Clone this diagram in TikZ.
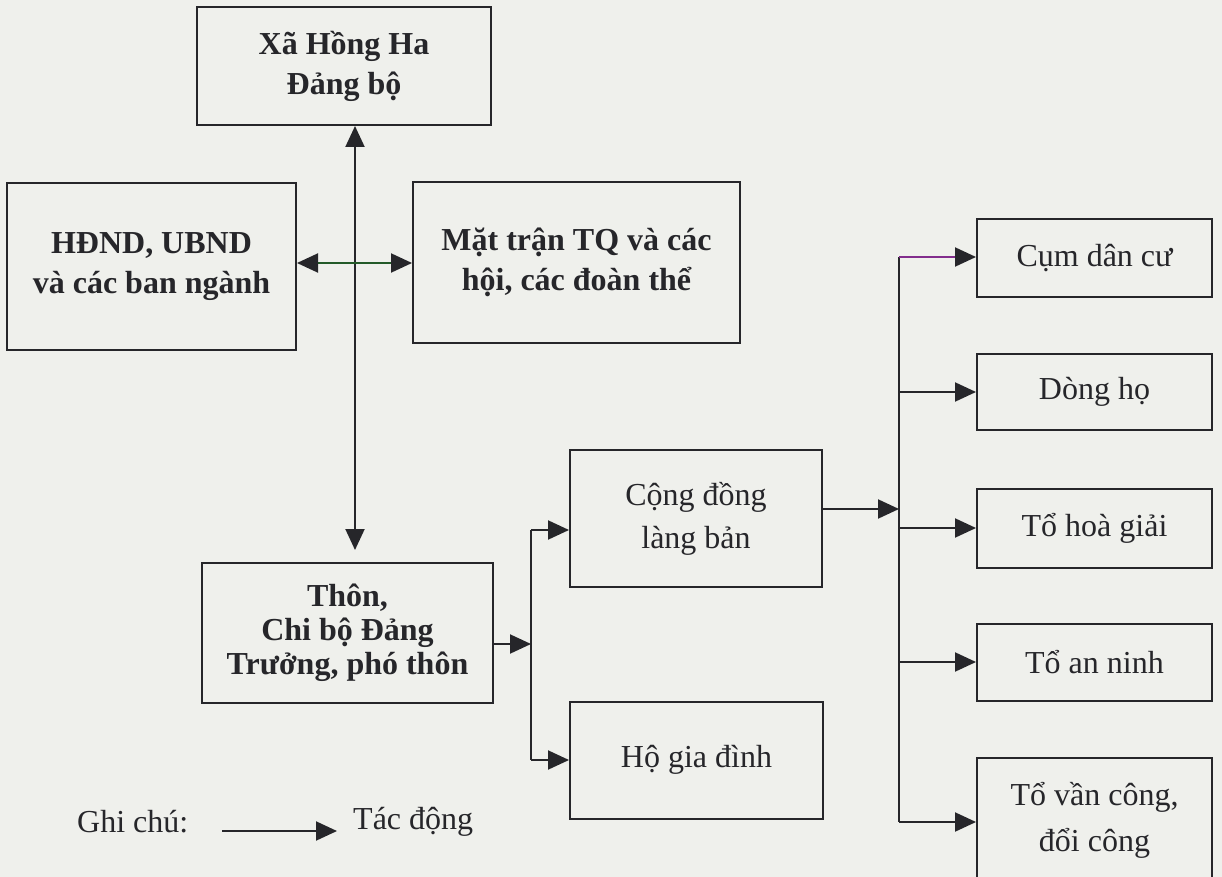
\documentclass[tikz,border=0pt]{standalone}
\usepackage{fontspec}
\setmainfont{Liberation Serif}
\usetikzlibrary{arrows.meta}
\definecolor{paper}{RGB}{239,240,236}
\definecolor{ink}{RGB}{38,38,42}
\definecolor{gline}{RGB}{35,90,40}
\definecolor{pline}{RGB}{130,45,140}
\begin{document}
\begin{tikzpicture}[x=1pt,y=-1pt,
  box/.style={draw=ink, line width=2pt, rectangle, inner sep=0pt, align=center, text=ink},
  lab/.style={text=ink, inner sep=0pt},
  conn/.style={draw=ink, line width=2pt},
  tip/.tip={Triangle[length=21pt,width=19pt,color=ink]},
  arr/.style={conn, -tip},
  darr/.style={conn, tip-tip},
  bigb/.style={font=\fontsize{32}{40}\selectfont\bfseries},
  thonf/.style={font=\fontsize{32}{34}\selectfont\bfseries},
  reg/.style={font=\fontsize{32}{43}\selectfont},
]
\fill[paper] (0,0) rectangle (1222,877);
\useasboundingbox (0,0) rectangle (1222,877);
\clip (0,0) rectangle (1222,877);

% boxes
\node[box, bigb, minimum width=294pt, minimum height=118pt] (xa) at (344,66) {Xã Hồng Ha\\Đảng bộ};
\node[box, bigb, minimum width=289pt, minimum height=167pt] (hd) at (151.5,266.5) {HĐND, UBND\\và các ban ngành};
\node[box, bigb, minimum width=327pt, minimum height=161pt] (mt) at (576.5,262.5) {Mặt trận TQ và các\\hội, các đoàn thể};
\node[box, thonf, minimum width=291pt, minimum height=140pt] (thon) at (347.5,633) {Thôn,\\Chi bộ Đảng\\Trưởng, phó thôn};
\node[box, reg, minimum width=252pt, minimum height=137pt] (cd) at (696,518.5) {Cộng đồng\\làng bản};
\node[box, reg, minimum width=253pt, minimum height=117pt] (hgd) at (696.5,760) {Hộ gia đình};
\node[box, reg, minimum width=235pt, minimum height=78pt] (r1) at (1094.5,258) {Cụm dân cư};
\node[box, reg, minimum width=235pt, minimum height=76pt] (r2) at (1094.5,392) {Dòng họ};
\node[box, reg, minimum width=235pt, minimum height=79pt] (r3) at (1094.5,528) {Tổ hoà giải};
\node[box, reg, minimum width=235pt, minimum height=77pt] (r4) at (1094.5,662) {Tổ an ninh};
\node[box, reg, font=\fontsize{32}{46}\selectfont, minimum width=235pt, minimum height=124pt] (r5) at (1094.5,820) {Tổ vần công,\\đổi công};

% vertical link Xa -- Thon
\coordinate (vb) at (355,550);
\draw[darr] (vb) -- (xa.south -| vb);

% horizontal double arrow HDND -- Mat tran
\coordinate (hy) at (355,263);
\draw[darr, draw=gline] (hd.east |- hy) -- (mt.west |- hy);

% Thon branch
\coordinate (b1) at (531,644);
\coordinate (b2) at (531,530);
\coordinate (b3) at (531,760);
\draw[arr] (thon.east |- b1) -- (b1);
\draw[conn] (b2) -- (b3);
\draw[arr] (b2) -- (cd.west |- b2);
\draw[arr] (b3) -- (hgd.west |- b3);

% Cong dong branch
\coordinate (c1) at (899,509);
\coordinate (s1) at (899,257);
\coordinate (s2) at (899,822);
\draw[arr] (cd.east |- c1) -- (c1);
\draw[conn] (s1) -- (s2);
\draw[arr, draw=pline] (s1) -- (r1.west |- s1);
\draw[arr] (s1 |- r2.west) -- (r2.west);
\draw[arr] (s1 |- r3.west) -- (r3.west);
\draw[arr] (s1 |- r4.west) -- (r4.west);
\draw[arr] (s1 |- s2) -- (r5.west |- s2);

% legend
\node[lab, reg, anchor=west] (gc) at (77,822) {Ghi chú:};
\coordinate (l1) at (222,831);
\coordinate (l2) at (337,831);
\draw[arr] (l1) -- (l2);
\node[lab, reg, anchor=west] (td) at (353,822) {Tác động};
\end{tikzpicture}
\end{document}
